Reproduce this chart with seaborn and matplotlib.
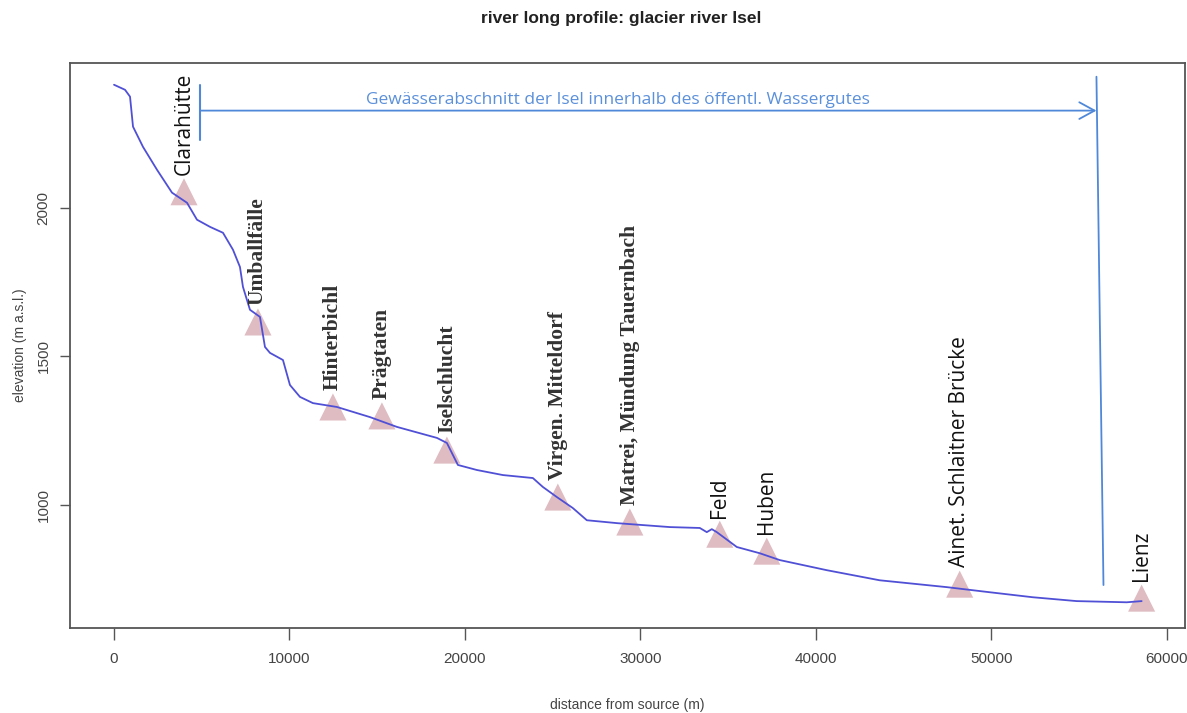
import seaborn as sns
import matplotlib.pyplot as plt
from matplotlib import font_manager

# Long profile of the Isel (distance from source in m, elevation in m a.s.l.)
distance_m = [0, 627, 912, 1083, 1652, 2450, 3305, 4160, 4729, 5470, 6211, 6781, 7179,
              7350, 7749, 8319, 8604, 8889, 9630, 10028, 10598, 11339, 12707, 14587,
              16125, 18405, 18974, 19601, 20684, 22165, 23875, 24444, 25242, 26154,
              26952, 28718, 31681, 33390, 33789, 34074, 34359, 35499, 36809, 37949,
              40627, 43647, 47464, 49886, 52365, 54872, 57721, 58575]
elevation_m = [2414, 2397, 2374, 2273, 2205, 2128, 2051, 2017, 1960, 1936, 1916, 1859, 1801,
               1734, 1657, 1633, 1532, 1512, 1488, 1404, 1364, 1343, 1330, 1296,
               1263, 1226, 1209, 1135, 1118, 1101, 1091, 1061, 1027, 990,
               949, 939, 926, 923, 909, 919, 909, 859, 838, 815,
               781, 747, 724, 707, 690, 677, 673, 677]

# Stations along the river
station_names = ["Clarahütte", "Umballfälle", "Hinterbichl", "Prägtaten", "Iselschlucht",
                 "Virgen. Mitteldorf", "Matrei, Mündung Tauernbach", "Feld", "Huben",
                 "Ainet. Schlaitner Brücke", "Lienz"]
station_distance = [3989, 8205, 12479, 15271, 18974, 25299, 29402, 34530, 37208, 48205, 58575]
station_elevation = [2054, 1616, 1330, 1300, 1185, 1027, 943, 902, 845, 734, 687]

# Section of the Isel within public water property
section_start = 4900
section_end = 56000
section_label = "Gewässerabschnitt der Isel innerhalb des öffentl. Wassergutes"

x_ticks = [0, 10000, 20000, 30000, 40000, 50000, 60000]
y_ticks = [1000, 1500, 2000]

sns.set_style("white")
installed = {f.name for f in font_manager.fontManager.ttflist}
NARROW = "Liberation Sans Narrow" if "Liberation Sans Narrow" in installed else "Liberation Sans"
plt.rcParams["font.family"] = ["DejaVu Sans"]

LINE = "#5050D6"
MARK = "#DFBCC2"
BLUE = "#4F88D9"
TEXTBLUE = "#5B90DA"
FRAME = "#555555"
serif_labels = {"Umballfälle", "Hinterbichl", "Prägtaten", "Iselschlucht",
                "Virgen. Mitteldorf", "Matrei, Mündung Tauernbach"}

fig, ax = plt.subplots(figsize=(11.87, 7.13), dpi=100)
fig.subplots_adjust(left=0.059, right=0.998, bottom=0.119, top=0.912)

# Stations and profile line
sns.scatterplot(x=station_distance, y=station_elevation, marker="^", s=380,
                color=MARK, edgecolor="none", ax=ax, zorder=2)
sns.lineplot(x=distance_m, y=elevation_m, color=LINE, lw=1.3, ax=ax, zorder=3, sort=False)

# Station labels
for name, xs, ys in zip(station_names, station_distance, station_elevation):
    if name in serif_labels:
        kw = dict(family=["Liberation Serif", "DejaVu Serif"], fontsize=15.5,
                  fontweight="bold", color="#333333")
    else:
        kw = dict(family=["Open Sans", "DejaVu Sans"], fontsize=15, color="#111111")
    ax.annotate(name, (xs, ys), xytext=(0, 12), textcoords="offset points",
                rotation=90, ha="center", va="bottom", zorder=4, **kw)

# Public water section marker
ax.annotate("", xy=(section_end, 2327), xytext=(section_start, 2327),
            arrowprops=dict(arrowstyle="->,head_length=0.55,head_width=0.3",
                            mutation_scale=20, color=BLUE, lw=1.3,
                            shrinkA=0, shrinkB=0))
ax.plot([section_start, section_start], [2229, 2414], color=BLUE, lw=1.5)
ax.plot([section_end, section_end + 400], [2441, 731], color=BLUE, lw=1.3)
ax.text(28700, 2364, section_label, ha="center", va="center", color=TEXTBLUE,
        fontsize=12.5, family=["Open Sans", "DejaVu Sans"])

# Axes in R style
ax.set_xlim(-2507, 61026)
ax.set_ylim(586, 2488)
ax.set_xticks(x_ticks)
ax.set_yticks(y_ticks)
ax.set_xticklabels([str(t) for t in x_ticks], family=NARROW, fontsize=11, color="#444444")
ax.set_yticklabels([str(t) for t in y_ticks], family=NARROW, fontsize=11, color="#444444",
                   rotation=90, va="center")
ax.tick_params(axis="both", bottom=True, left=True, direction="out", length=8.5,
               width=1, color=FRAME)
ax.tick_params(axis="x", pad=9)
ax.tick_params(axis="y", length=7, pad=7)
for sp in ax.spines.values():
    sp.set_color(FRAME)
    sp.set_linewidth(1.3)

ax.set_xlabel("distance from source (m)", family=NARROW, fontsize=10, color="#444444",
              labelpad=23)
ax.set_ylabel("elevation (m a.s.l.)", family=NARROW, fontsize=10, color="#444444",
              labelpad=7)
fig.text(0.523, 1 - 18 / 713, "river long profile: glacier river Isel", ha="center",
         va="center", family=NARROW, fontsize=12.5, fontweight="bold", color="#222222")

fig.savefig("out.png", dpi=100)
